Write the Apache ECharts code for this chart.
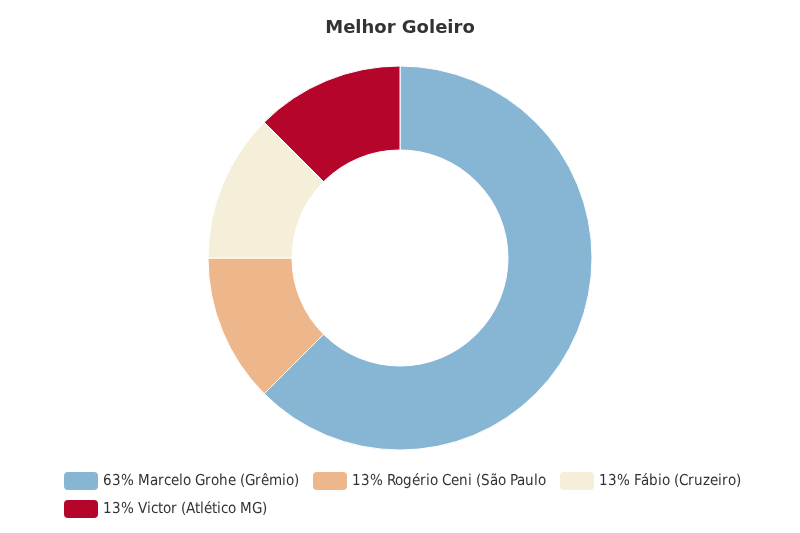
<!DOCTYPE html>
<html>
<head>
<meta charset="utf-8">
<script src="https://cdn.jsdelivr.net/npm/echarts@6/dist/echarts.min.js"></script>
<style>
@font-face { font-family: 'DVC'; src: local('DejaVu Sans Condensed'), local('DejaVuSansCondensed'); font-weight: normal; }
@font-face { font-family: 'DVC'; src: local('DejaVu Sans Condensed Bold'), local('DejaVuSansCondensed-Bold'); font-weight: bold; }
html,body{margin:0;padding:0;background:#fff}#c{width:800px;height:533px}
</style>
</head>
<body>
<div id="c"></div>
<script>
const names = ["63% Marcelo Grohe (Grêmio)", "13% Rogério Ceni (São Paulo", "13% Fábio (Cruzeiro)", "13% Victor (Atlético MG)"];
const values = [5, 1, 1, 1];
const colors = ["#87b5d4", "#eeb78b", "#f5eed8", "#b5052b"];

function draw() {
  const legendText = { fontFamily: 'DVC, DejaVu Sans', fontSize: 14.5, color: '#333', padding: [0, 0, 0, -1] };
  const legendBase = {
    itemWidth: 36, itemHeight: 20, itemGap: 12, padding: 0,
    icon: 'roundRect', textStyle: legendText, orient: 'horizontal'
  };
  const chart = echarts.init(document.getElementById('c'));
  chart.setOption({
    animation: false,
    title: {
      text: 'Melhor Goleiro', left: 'center', top: 14,
      textStyle: { fontFamily: 'DejaVu Sans', fontWeight: 'bold', fontSize: 18, color: '#333' }
    },
    legend: [
      Object.assign({ left: 62, top: 470, data: names.slice(0, 3) }, legendBase),
      Object.assign({ left: 62, top: 498, data: names.slice(3) }, legendBase)
    ],
    series: [{
      type: 'pie',
      center: [400, 258],
      radius: [108, 192],
      startAngle: 90,
      clockwise: true,
      label: { show: false },
      labelLine: { show: false },
      emphasis: { disabled: true },
      itemStyle: { borderColor: '#fff', borderWidth: 1 },
      data: names.map((n, i) => ({ name: n, value: values[i], itemStyle: { color: colors[i] } }))
    }]
  });
}
Promise.all([
  document.fonts.load('14px DVC'),
  document.fonts.load('bold 14px DVC')
]).then(draw, draw);
</script>
</body>
</html>
